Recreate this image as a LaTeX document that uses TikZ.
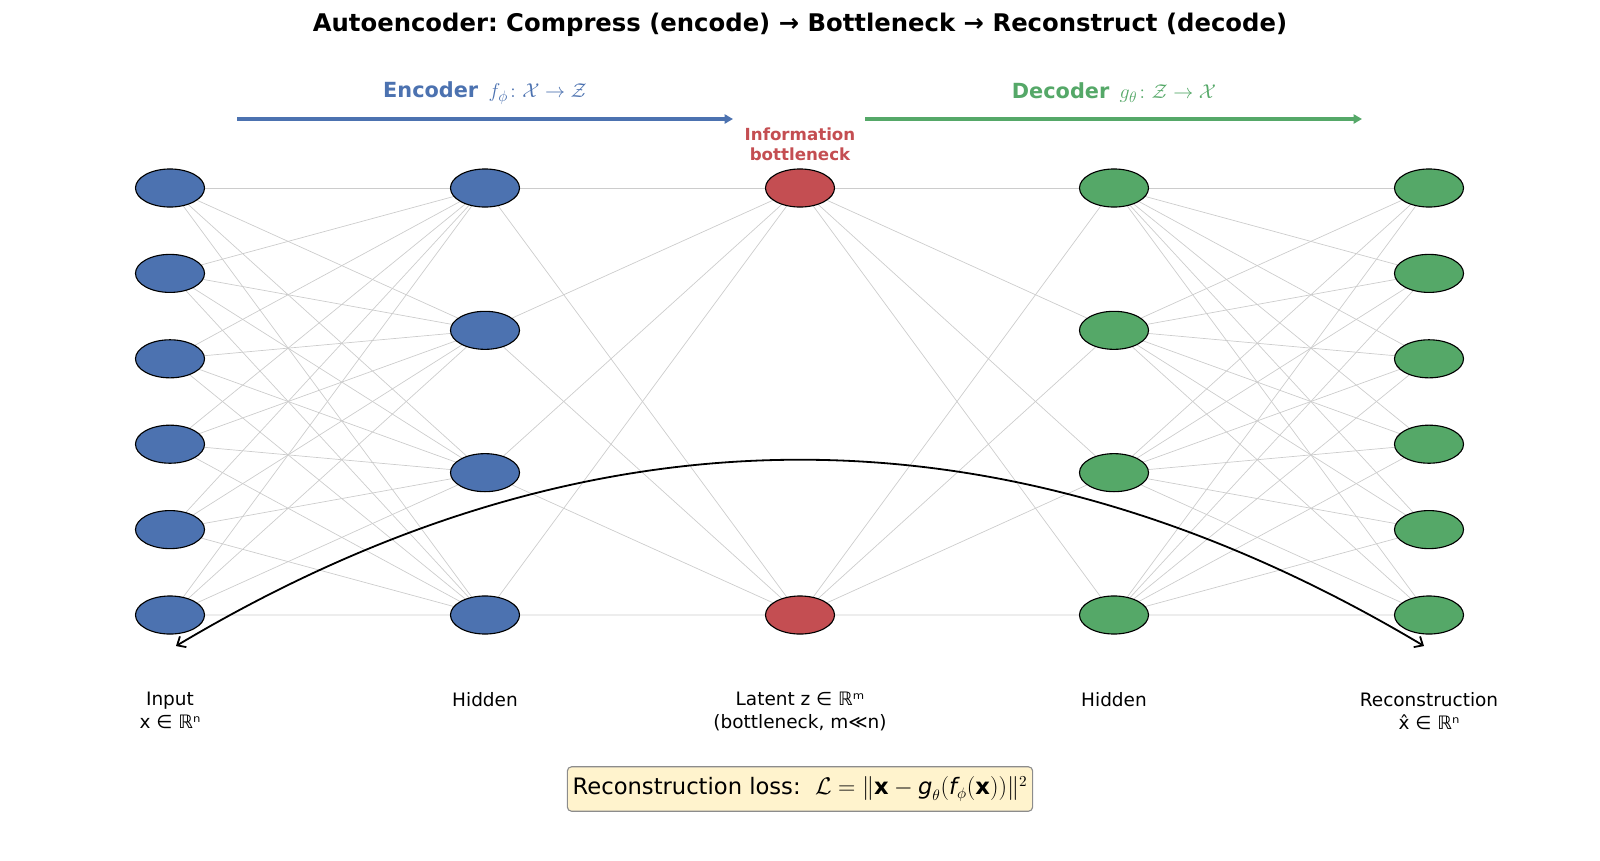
\documentclass[tikz,border=0pt]{standalone}
\usepackage{amsmath}
\usepackage{fontspec}
\setmainfont{DejaVu Sans}
\usetikzlibrary{arrows.meta,backgrounds,shapes.geometric}
\definecolor{encblue}{HTML}{4C72B0}
\definecolor{botred}{HTML}{C44E52}
\definecolor{decgreen}{HTML}{55A868}
\definecolor{lossfill}{HTML}{FFF3CD}
\frenchspacing
\tikzset{
  neuron/.style={ellipse, draw=black, line width=0.8pt, minimum width=49.7pt, minimum height=27.4pt, inner sep=0pt},
  link/.style={draw=black!20, line width=0.5pt},
  flow/.style={line width=2.5pt, -{Triangle[length=6pt,width=6.5pt]}},
  layername/.style={anchor=north, inner sep=0pt, align=center, font=\fontsize{13.3}{16.5}\selectfont}
}
\begin{document}
\begin{tikzpicture}[x=0.72pt, y=-0.72pt]
  \useasboundingbox (0,0) rectangle (1600,860);
  \node[font=\bfseries\fontsize{17.5}{21}\selectfont] (title) at (800,25) {Autoencoder: Compress (encode) → Bottleneck → Reconstruct (decode)};
  % layers: 6 - 4 - 2 - 4 - 6
  \foreach \i in {1,...,6} \node[neuron, fill=encblue] (in\i) at (170,{188+(\i-1)*85.4}) {};
  \foreach \i in {1,...,4} \node[neuron, fill=encblue] (ha\i) at (485,{188+(\i-1)*142.33}) {};
  \node[neuron, fill=botred] (z1) at (800,188) {};
  \node[neuron, fill=botred] (z2) at (800,615) {};
  \foreach \i in {1,...,4} \node[neuron, fill=decgreen] (hb\i) at (1114,{188+(\i-1)*142.33}) {};
  \foreach \i in {1,...,6} \node[neuron, fill=decgreen] (out\i) at (1429,{188+(\i-1)*85.4}) {};
  \begin{scope}[on background layer]
    \foreach \i in {1,...,6} \foreach \j in {1,...,4} \draw[link] (in\i.center) -- (ha\j.center);
    \foreach \i in {1,...,4} \foreach \j in {1,2} \draw[link] (ha\i.center) -- (z\j.center);
    \foreach \i in {1,2} \foreach \j in {1,...,4} \draw[link] (z\i.center) -- (hb\j.center);
    \foreach \i in {1,...,4} \foreach \j in {1,...,6} \draw[link] (hb\i.center) -- (out\j.center);
  \end{scope}
  % encoder / decoder arrows
  \coordinate (encL) at (237,119); \coordinate (encR) at (733,119);
  \coordinate (decL) at (865,119); \coordinate (decR) at (1362,119);
  \draw[flow, encblue] (encL) -- (encR);
  \draw[flow, decgreen] (decL) -- (decR);
  \node[text=encblue, font=\fontsize{15}{18}\selectfont] (enc) at (485,93) {\textbf{Encoder}\enspace$f_\phi\colon\mathcal{X}\to\mathcal{Z}$};
  \node[text=decgreen, font=\fontsize{15}{18}\selectfont] (dec) at (1114,93) {\textbf{Decoder}\enspace$g_\theta\colon\mathcal{Z}\to\mathcal{X}$};
  \node[text=botred, align=center, font=\bfseries\fontsize{12}{14.7}\selectfont] (info) at (800,144) {Information\\bottleneck};
  % layer names
  \node[layername] (lin) at (170,692) {Input\\x ∈ ℝⁿ};
  \node[layername] (lha) at (485,692) {Hidden};
  \node[layername] (lz) at (800,692) {Latent z ∈ ℝᵐ\\(bottleneck, m≪n)};
  \node[layername] (lhb) at (1114,692) {Hidden};
  \node[layername] (lout) at (1429,692) {Reconstruction\\x̂ ∈ ℝⁿ};
  % reconstruction arc
  \coordinate (arcL) at (176,646); \coordinate (arcR) at (1424,646);
  \draw[line width=1.3pt, {Straight Barb[length=5pt,width=9pt]}-{Straight Barb[length=5pt,width=9pt]}] (arcL) .. controls (592,398) and (1008,398) .. (arcR);
  \node[draw=black!45, fill=lossfill, rounded corners=3pt, line width=0.8pt, minimum width=335pt, minimum height=32pt, font=\fontsize{16.3}{19}\selectfont] (loss) at (800,789) {Reconstruction loss:\ \ $\mathcal{L}=\lVert\textbf{x}-\textit{g}_\theta(\textit{f}_\phi(\textbf{x}))\rVert^2$};
\end{tikzpicture}
\end{document}
